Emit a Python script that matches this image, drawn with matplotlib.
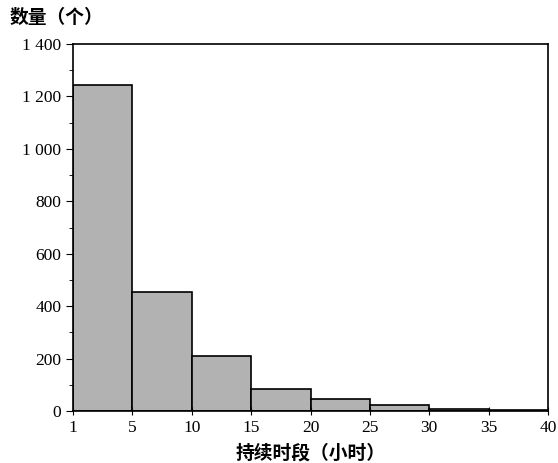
import matplotlib.pyplot as plt
from matplotlib.ticker import MultipleLocator, FuncFormatter

# histogram of event durations (hours)
bin_labels = ["1", "5", "10", "15", "20", "25", "30", "35", "40"]
counts = [1245, 455, 210, 85, 47, 22, 10, 5]

plt.rcParams['font.family'] = ['Liberation Serif', 'Noto Sans CJK SC']

fig = plt.figure(figsize=(5.58, 4.63), dpi=100)
ax = fig.add_axes([0.131, 0.112, 0.851, 0.793])

pos = [i + 0.5 for i in range(len(counts))]
ax.bar(pos, counts, width=1.0, color="#b2b2b2", edgecolor="black", linewidth=1.2)

ax.set_xlim(0, len(counts))
ax.set_ylim(0, 1400)
ax.set_xticks(range(len(bin_labels)))
ax.set_xticklabels(bin_labels)
ax.yaxis.set_major_locator(MultipleLocator(200))
ax.yaxis.set_minor_locator(MultipleLocator(100))
ax.yaxis.set_major_formatter(FuncFormatter(lambda v, p: f"{int(v):,}".replace(",", " ")))

ax.tick_params(axis="y", which="major", direction="out", length=5, labelsize=12.5)
ax.tick_params(axis="y", which="minor", direction="out", length=3)
ax.tick_params(axis="x", direction="inout", length=6, labelsize=12.5)
for s in ax.spines.values():
    s.set_linewidth(1.2)

cjk = ['Noto Sans CJK SC', 'DejaVu Sans']
fig.text(0.018, 0.962, "数量（个）", family=cjk, fontsize=13.5, fontweight="bold", va="center", ha="left")
ax.set_xlabel("持续时段（小时）", family=cjk, fontsize=13.5, fontweight="bold", labelpad=5)

fig.savefig("out.png", dpi=100)
